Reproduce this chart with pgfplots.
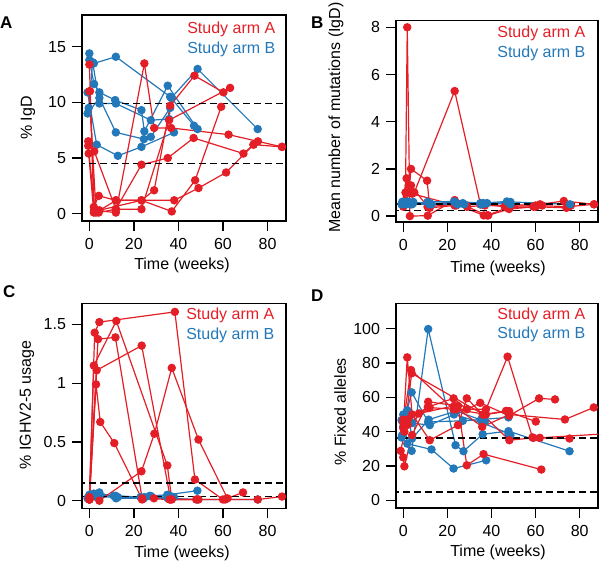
\documentclass[border=0pt]{standalone}
\usepackage{fontspec}
\setmainfont{Liberation Sans}
\usepackage{pgfplots}
\pgfplotsset{compat=1.18}
\definecolor{cred}{RGB}{228,30,38}
\definecolor{cblue}{RGB}{35,120,185}
\newcommand\fs{\fontsize{16bp}{19bp}\selectfont}
\pgfplotsset{
  panel/.style={scale only axis, clip=true, axis line style={line width=1.3bp},
    tick align=outside, xtick pos=left, ytick pos=left,
    major tick length=10bp, major tick style={line width=1.3bp, black},
    tick label style={font=\fs}, label style={font=\fs},
    xticklabel style={yshift=-3.5bp}, yticklabel style={xshift=-2.5bp},
    /pgf/number format/assume math mode=true,
    xmin=-3.3, xmax=88.3, xtick={0,20,40,60,80},
    xlabel={Time (weeks)}},
  arma/.style={cred, line width=1.2bp, mark=*, mark size=3.6bp, mark options={solid, fill=cred, draw=cred}},
  armb/.style={cblue, line width=1.2bp, mark=*, mark size=3.6bp, mark options={solid, fill=cblue, draw=cblue}},
  refl/.style={black, line width=1.4bp, dash pattern=on 7bp off 4bp},
}
\begin{document}
\begin{tikzpicture}
\useasboundingbox (0bp,0bp) rectangle (600bp,-563bp);
% ---------------- A
\begin{axis}[panel, at={(82bp,-221bp)}, anchor=south west, width=204bp, height=206bp,
  ymin=-0.66, ymax=17.85, ytick={0,5,10,15},
  ylabel={\% IgD},
  ylabel style={at={(axis description cs:-0.265,0.5)}, anchor=center},
  xlabel style={at={(axis description cs:0.49,-0.214)}, anchor=center}]
\addplot[armb] coordinates {(0,14.4) (2,13.5) (11.9,14.1) (36.3,10.5) (47,7.9)};
\addplot[armb] coordinates {(0,13.8) (2.1,11.65) (4.5,10.9) (11.6,10.2) (23.4,9.3) (24.7,7.4) (35.2,11.5) (48.6,7.6)};
\addplot[armb] coordinates {(-0.8,10.9) (3.3,6.2) (12.8,5.2) (23.4,6.0) (38.0,7.3)};
\addplot[armb] coordinates {(-0.8,9.0) (4.5,10.4) (11.9,7.3) (24.5,6.7) (27.6,6.9) (36.3,9.5)};
\addplot[armb] coordinates {(-0.3,9.5) (1.5,13.6) (4.5,9.9) (11.9,9.9) (27.6,8.4) (35.8,8.5) (36.8,10.4) (48.6,13.0) (75.6,7.6)};
\addplot[arma] coordinates {(0,13.4) (2.2,0.3) (11.9,0.1) (24.7,13.5) (29.1,7.7) (36.7,7.7) (62.5,7.1) (86.5,6.0)};
\addplot[arma] coordinates {(0.3,11.0) (2.0,0.6) (4.2,1.6) (11.9,1.2) (23.4,1.2) (29.1,2.1) (36.3,9.7) (47.2,12.4) (60.2,10.9)};
\addplot[arma] coordinates {(-0.5,6.5) (2.2,5.6) (11.9,0.4) (23.4,4.4) (35.2,5.0) (46.8,6.8) (69.2,5.4) (73.7,6.2) (86.5,6.0)};
\addplot[arma] coordinates {(-0.5,6.1) (2.5,0.2) (4.2,0.1) (11.9,0.4) (23.4,0.4) (35.8,8.4) (63.2,11.3)};
\addplot[arma] coordinates {(-0.3,5.4) (2.0,0.1) (4.5,0.3) (23.4,1.2) (37.0,0.2) (47.5,3.0) (59.2,9.6)};
\addplot[arma] coordinates {(0,11.0) (3.0,0.1) (12.0,1.2) (38.1,1.2) (49.0,2.3) (61.4,3.7) (73.7,6.2) (75.7,6.5)};
\addplot[refl] coordinates {(-10,9.9) (100,9.9)};
\addplot[refl] coordinates {(-10,4.5) (100,4.5)};
\node[anchor=east, font=\fs, text=cred] at (rel axis cs:0.965,0.932) {Study arm A};
\node[anchor=east, font=\fs, text=cblue] at (rel axis cs:0.965,0.835) {Study arm B};
\end{axis}
\node[anchor=north west, font=\fontsize{17bp}{19bp}\selectfont\bfseries, inner sep=0] at (0bp,-17bp) {A};
% ---------------- B
\begin{axis}[panel, at={(396bp,-222bp)}, anchor=south west, width=202bp, height=201.3bp,
  ymin=-0.25, ymax=8.28, ytick={0,2,4,6,8},
  ylabel={Mean number of mutations (IgD)},
  ylabel style={at={(axis description cs:-0.297,0.519)}, anchor=center},
  xlabel style={at={(axis description cs:0.505,-0.229)}, anchor=center}]
\addplot[arma] coordinates {(0,0.45) (1,1.0) (1.8,8.0) (3,0.0) (11.1,0.02) (23.3,0.68) (35,0.5) (37,0.5)};
\addplot[arma] coordinates {(-0.5,0.5) (1.5,1.6) (3.5,1.3) (11,0.4) (24,0.5) (36.5,0.03) (38.5,0.03) (48,0.3) (60,0.4) (63,0.45)};
\addplot[arma] coordinates {(0,0.4) (2.5,1.0) (3.5,2.0) (10.8,1.5) (12,0.35) (23.3,0.45) (29,0.4) (37,0.45) (47,0.45) (62,0.5) (72.8,0.64) (86.5,0.5)};
\addplot[arma] coordinates {(0,0.5) (3,1.0) (5,1.0) (23.3,5.3) (35,0.5) (46,0.4) (60,0.45) (75,0.4) (86.5,0.5)};
\addplot[arma] coordinates {(0,0.45) (2.5,1.3) (4,0.95) (24,0.45) (29,0.4) (38,0.03) (47,0.35) (59,0.4) (74,0.35) (76,0.45)};
\addplot[armb] coordinates {(-0.5,0.6) (2,0.55) (4,0.5) (11,0.6) (23,0.62) (27,0.55) (35,0.55) (47,0.62)};
\addplot[armb] coordinates {(0,0.5) (2,0.62) (4.5,0.55) (12,0.55) (24,0.55) (36,0.5) (48.6,0.6) (75.6,0.5)};
\addplot[armb] coordinates {(0,0.55) (3.3,0.5) (12.8,0.5) (23.4,0.6) (38,0.55)};
\addplot[armb] coordinates {(-0.8,0.5) (1.5,0.5) (4.5,0.6) (11.9,0.5) (24.7,0.5) (27.6,0.5) (36.3,0.55) (48.6,0.5)};
\addplot[armb] coordinates {(0,0.6) (3,0.55) (11.6,0.55) (24.5,0.5) (35.2,0.5)};
\addplot[refl] coordinates {(-10,0.52) (100,0.52)};
\addplot[refl] coordinates {(-10,0.23) (100,0.23)};
\node[anchor=east, font=\fs, text=cred] at (rel axis cs:0.955,0.939) {Study arm A};
\node[anchor=east, font=\fs, text=cblue] at (rel axis cs:0.955,0.84) {Study arm B};
\end{axis}
\node[anchor=north west, font=\fontsize{17bp}{19bp}\selectfont\bfseries, inner sep=0] at (311bp,-17bp) {B};
% ---------------- C
\begin{axis}[panel, at={(82bp,-508.3bp)}, anchor=south west, width=204bp, height=205bp,
  ymin=-0.065, ymax=1.68, ytick={0,0.5,1,1.5}, yticklabels={0,0.5,1,1.5},
  ylabel={\% IGHV2-5 usage},
  ylabel style={at={(axis description cs:-0.27,0.504)}, anchor=center},
  xlabel style={at={(axis description cs:0.49,-0.218)}, anchor=center}]
\addplot[armb] coordinates {(-0.5,0.03) (2,0.05) (4,0.06) (11,0.04) (23,0.03) (27,0.04) (35,0.05) (48.5,0.085)};
\addplot[armb] coordinates {(0,0.01) (2,0.06) (4.5,0.07) (12,0.02) (24,0.02) (36,0.02) (48.6,0.01) (75.6,0.01)};
\addplot[armb] coordinates {(0,0.05) (3.3,0.03) (12.8,0.03) (23.4,0.02) (38,0.03)};
\addplot[armb] coordinates {(-0.8,0.02) (1.5,0.04) (4.5,0.04) (11.9,0.04) (24.7,0.03) (27.6,0.04) (36.3,0.04)};
\addplot[armb] coordinates {(0,0.04) (3,0.05) (11.6,0.04) (24.5,0.02) (35.2,0.02)};
\addplot[arma] coordinates {(0,0.02) (2.4,1.43) (4.5,1.52) (38.4,1.607) (47.4,0.18) (60,0.01) (75.6,0.01) (86.5,0.035)};
\addplot[arma] coordinates {(0,0.03) (3.9,1.375) (11.7,1.39) (23.7,0.02) (36,0.01) (48,0.01)};
\addplot[arma] coordinates {(0,0.01) (3.3,1.11) (23.5,1.32) (36.5,0.01) (49,0.01)};
\addplot[arma] coordinates {(0,0.01) (3.0,0.99) (4.9,0.67) (11.2,0.49) (23.7,0.01) (29,0.02)};
\addplot[arma] coordinates {(0,0.02) (4.5,0.0) (23.4,0.25) (29.2,0.57) (37,1.13) (49,0.52) (62,0.02) (69,0.07)};
\addplot[arma] coordinates {(0,0.01) (2.0,1.15) (12.1,1.53) (35,0.30) (37,0.01) (61,0.01)};
\addplot[refl] coordinates {(-10,0.15) (100,0.15)};
\addplot[refl] coordinates {(-10,0.034) (100,0.034)};
\node[anchor=east, font=\fs, text=cred] at (rel axis cs:0.96,0.943) {Study arm A};
\node[anchor=east, font=\fs, text=cblue] at (rel axis cs:0.96,0.846) {Study arm B};
\end{axis}
\node[anchor=north west, font=\fontsize{17bp}{19bp}\selectfont\bfseries, inner sep=0] at (3bp,-285bp) {C};
% ---------------- D
\begin{axis}[panel, at={(396bp,-508bp)}, anchor=south west, width=202bp, height=204.7bp,
  ymin=-4.5, ymax=114.8, ytick={0,20,40,60,80,100},
  ylabel={\% Fixed alleles},
  ylabel style={at={(axis description cs:-0.277,0.47)}, anchor=center},
  xlabel style={at={(axis description cs:0.505,-0.218)}, anchor=center}]
\addplot[armb] coordinates {(-0.8,36.6) (3.8,28.8) (11.3,99.8) (23.7,32.1) (27.3,28.6) (36,38.5) (47.7,40.3) (75.4,28.6)};
\addplot[armb] coordinates {(-0.8,46.7) (1.8,52.5) (3.8,62.9) (11.3,45.7) (27,46.3) (35.3,47.1) (47.7,48.3)};
\addplot[armb] coordinates {(0,50) (1.8,33) (12.8,29.6) (22.8,18.5) (37.6,23.3)};
\addplot[armb] coordinates {(0,43) (4,45) (12,43.8) (23,50) (36,45) (47.7,39) (48.6,38)};
\addplot[armb] coordinates {(-0.5,38) (2.5,48) (4,36) (11.5,47) (24,52) (37,46)};
\addplot[arma] coordinates {(0,42) (1.8,83.3) (4,50) (12,35) (24.8,43.8) (28.8,59.4) (36,50) (48.1,35) (59,36.4) (75.4,36)};
\addplot[arma] coordinates {(0,45) (3.5,75.9) (22.8,53) (37.5,53) (47.3,83.7) (58.6,36.6) (61.9,36.4) (88.5,38.5)};
\addplot[arma] coordinates {(0.5,40) (3.8,74) (36.4,50) (46.6,52.1) (60.1,45.9)};
\addplot[arma] coordinates {(-1.2,28.8) (2,47) (11.1,54.3) (22.8,59.4) (28.8,53) (34.9,56.8) (48,49.3) (61.6,59.4) (68.8,58.8)};
\addplot[arma] coordinates {(0,25) (0.5,19.8) (4,38) (11.3,57.4) (24.8,55) (28.8,20.4) (36.4,26.9) (62.6,17.9)};
\addplot[arma] coordinates {(0,47) (7.1,50.6) (23,55) (35.8,42.8) (48.1,50) (73.3,47.1) (86.4,54.1)};
\addplot[arma] coordinates {(2,44) (12,54) (24,53) (37.5,50) (48,52)};
\addplot[refl] coordinates {(-10,36.4) (100,36.4)};
\addplot[refl] coordinates {(-10,4.8) (100,4.8)};
\node[anchor=east, font=\fs, text=cred] at (rel axis cs:0.955,0.943) {Study arm A};
\node[anchor=east, font=\fs, text=cblue] at (rel axis cs:0.955,0.846) {Study arm B};
\end{axis}
\node[anchor=north west, font=\fontsize{17bp}{19bp}\selectfont\bfseries, inner sep=0] at (311bp,-290bp) {D};
\end{tikzpicture}
\end{document}
